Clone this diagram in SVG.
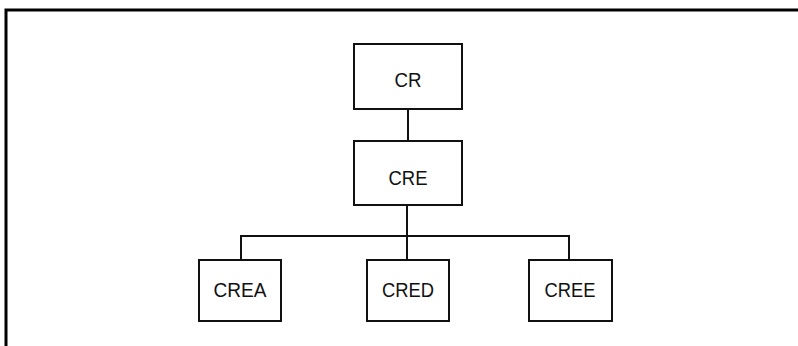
<svg xmlns="http://www.w3.org/2000/svg" width="798" height="346" viewBox="0 0 798 346">
<style>
.box{fill:#fff;stroke:#111;stroke-width:2}
.lbl{font-family:"Liberation Sans",Arial,sans-serif;font-size:21px;fill:#111;text-anchor:middle}
.con{fill:none;stroke:#111;stroke-width:2}
.frame{fill:none;stroke:#000;stroke-width:3}
</style>
<rect width="798" height="346" fill="#fff"/>
<path class="frame" d="M6,346 V10 H798"/>
<g id="connectors">
<line class="con" x1="408" y1="109" x2="408" y2="141"/>
<line class="con" x1="407" y1="205" x2="407" y2="260"/>
<polyline class="con" points="241,260 241,236 569,236 569,260"/>
</g>
<g id="CR"><rect class="box" x="354" y="44" width="108" height="65"/><text class="lbl" x="408" y="87" textLength="27" lengthAdjust="spacingAndGlyphs">CR</text></g>
<g id="CRE"><rect class="box" x="354" y="141" width="108" height="64"/><text class="lbl" x="408" y="184.5" textLength="39" lengthAdjust="spacingAndGlyphs">CRE</text></g>
<g id="CREA"><rect class="box" x="199" y="260" width="82" height="61"/><text class="lbl" x="240" y="297" textLength="53" lengthAdjust="spacingAndGlyphs">CREA</text></g>
<g id="CRED"><rect class="box" x="367" y="260" width="82" height="61"/><text class="lbl" x="408" y="297" textLength="52" lengthAdjust="spacingAndGlyphs">CRED</text></g>
<g id="CREE"><rect class="box" x="529" y="260" width="83" height="61"/><text class="lbl" x="570" y="297" textLength="51" lengthAdjust="spacingAndGlyphs">CREE</text></g>
</svg>
